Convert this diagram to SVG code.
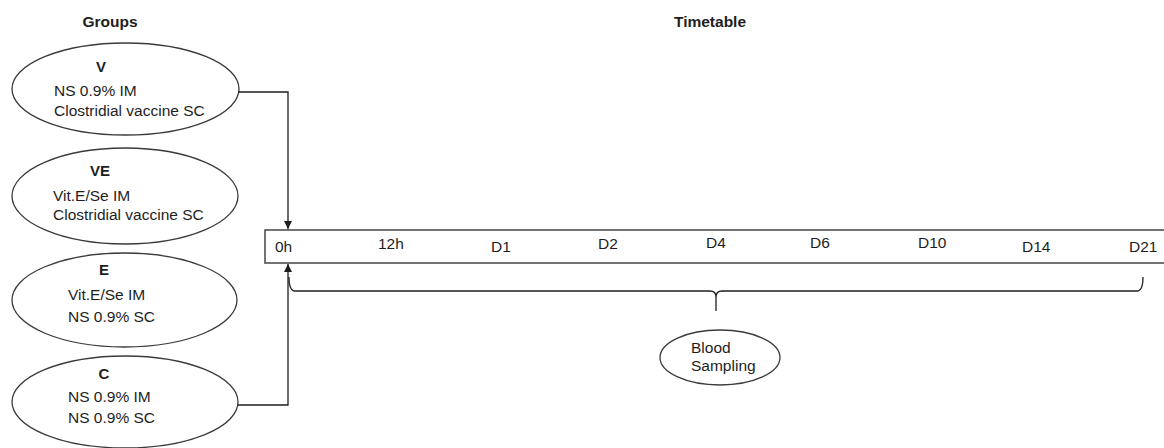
<svg xmlns="http://www.w3.org/2000/svg" width="1164" height="448" viewBox="0 0 1164 448">
<style>
  text { font-family: "Liberation Sans", Arial, sans-serif; font-size: 15.5px; fill: #1e1e1e; }
  .b { font-weight: bold; font-size: 15px; }
  .title { font-weight: bold; font-size: 15.5px; }
  .shape { fill: #ffffff; stroke: #3a3a3a; stroke-width: 1.3; }
  .box { fill: #ffffff; stroke: #505050; stroke-width: 1.6; }
  .line { fill: none; stroke: #1e1e1e; stroke-width: 1.3; }
</style>
<defs>
  <marker id="arrow" viewBox="0 0 10 10" refX="10" refY="5" markerWidth="8" markerHeight="8" markerUnits="userSpaceOnUse" orient="auto">
    <path d="M0,0 L10,5 L0,10 z" fill="#1e1e1e"/>
  </marker>
</defs>
<rect width="1164" height="448" fill="#ffffff"/>

<g id="titles">
  <text class="title" x="110" y="27" text-anchor="middle">Groups</text>
  <text class="title" x="710" y="27" text-anchor="middle">Timetable</text>
</g>

<g id="group-V">
  <ellipse class="shape" cx="125.5" cy="89" rx="113.5" ry="46"/>
  <text class="b" x="101" y="72" text-anchor="middle">V</text>
  <text x="54" y="96">NS 0.9% IM</text>
  <text x="54" y="116">Clostridial vaccine SC</text>
</g>

<g id="group-VE">
  <ellipse class="shape" cx="125" cy="196" rx="113" ry="48"/>
  <text class="b" x="100" y="176" text-anchor="middle">VE</text>
  <text x="53" y="201">Vit.E/Se IM</text>
  <text x="53" y="220">Clostridial vaccine SC</text>
</g>

<g id="group-E">
  <ellipse class="shape" cx="124.5" cy="300" rx="112.5" ry="47"/>
  <text class="b" x="104" y="275" text-anchor="middle">E</text>
  <text x="68" y="300">Vit.E/Se IM</text>
  <text x="68" y="322">NS 0.9% SC</text>
</g>

<g id="group-C">
  <ellipse class="shape" cx="125" cy="402" rx="113" ry="46"/>
  <text class="b" x="104" y="379" text-anchor="middle">C</text>
  <text x="68" y="402">NS 0.9% IM</text>
  <text x="68" y="423">NS 0.9% SC</text>
</g>

<g id="timeline">
  <rect class="box" x="265" y="230" width="905" height="33"/>
  <text x="275" y="252">0h</text>
  <text x="378" y="249">12h</text>
  <text x="491" y="252">D1</text>
  <text x="598" y="249">D2</text>
  <text x="706" y="248">D4</text>
  <text x="810" y="248">D6</text>
  <text x="918" y="248">D10</text>
  <text x="1022" y="252">D14</text>
  <text x="1129" y="252">D21</text>
</g>

<g id="blood-sampling">
  <ellipse class="shape" cx="720" cy="357.5" rx="60" ry="27.5"/>
  <text x="691" y="353">Blood</text>
  <text x="691" y="371">Sampling</text>
</g>

<g id="connectors">
  <path class="line" d="M238,92 L288,92 L288,229" marker-end="url(#arrow)"/>
  <path class="line" d="M238,405 L288,405 L288,264" marker-end="url(#arrow)"/>
  <path class="line" d="M289,277 Q289,291 295,291 L710,291 Q716,291 716,297 L716,311 M716,297 Q716,291 722,291 L1137,291 Q1143,291 1143,277"/>
</g>
</svg>
